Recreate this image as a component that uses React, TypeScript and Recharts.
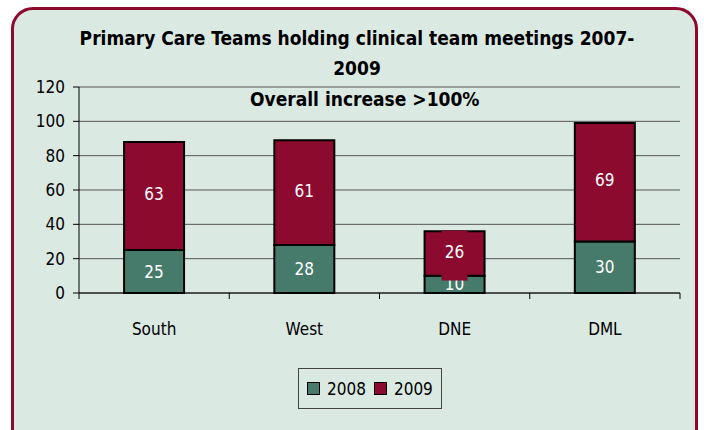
import { Bar, BarChart, CartesianGrid, LabelList, XAxis, YAxis } from "recharts";

// Primary Care Teams holding clinical team meetings, stacked 2008 + 2009.

const regions = ["South", "West", "DNE", "DML"];
const y2008 = [25, 28, 10, 30];
const y2009 = [63, 61, 26, 69];
const yTicks = [0, 20, 40, 60, 80, 100, 120];
const boundaries = [0, 1, 2, 3, 4];

const GREEN = "#467a6a";
const RED = "#8b0a2e";
const BG = "#dbe9e3";
const FONT = '"Liberation Sans Narrow", "DejaVu Sans Condensed", "Arial Narrow", sans-serif';

const data = regions.map((name, i) => ({ name, idx: i + 0.5, a: y2008[i], b: y2009[i] }));

/** 2009 labels sit on a red box (as in the source), which spills over short segments. */
function RedBoxLabel(props: any) {
  const { x, y, width, height, value } = props;
  const cx = x + width / 2;
  const cy = y + height / 2;
  return (
    <g>
      <rect x={cx - 13} y={cy - 23} width={26} height={50} fill={RED} />
      <text x={cx} y={cy} dy={4} textAnchor="middle" fill="#fff" fontSize={17} fontFamily={FONT}>
        {value}
      </text>
    </g>
  );
}

// boundary axis only needs its tick marks
const NoTick = () => <g />;

function LegendItem({ color, label }: { color: string; label: string }) {
  return (
    <span style={{ display: "inline-flex", alignItems: "center", marginRight: 8 }}>
      <span
        style={{
          width: 11,
          height: 11,
          background: color,
          border: "1px solid #000",
          marginRight: 7,
          display: "inline-block",
        }}
      />
      {label}
    </span>
  );
}

export default function App() {
  return (
    <div style={{ position: "absolute", left: 0, top: 0, width: 704, height: 430, overflow: "hidden", background: "#fff", fontFamily: FONT }}>
      <div
        style={{
          position: "absolute",
          left: 11,
          top: 7,
          width: 681,
          height: 450,
          border: `3px solid ${RED}`,
          borderRadius: 22,
          background: BG,
        }}
      />
      <div style={{ position: "absolute", left: 0, top: 0 }}>
        <BarChart width={704} height={430} data={data} margin={{ top: 87, right: 24, bottom: 106, left: 39 }} barCategoryGap="30%">
          <CartesianGrid stroke="#555" vertical={false} xAxisId="names" />
          {/* id 0 sits next to the plot: category-boundary tick marks, Excel style */}
          <XAxis
            type="number"
            dataKey="idx"
            domain={[0, 4]}
            ticks={boundaries}
            axisLine={{ stroke: "#000" }}
            tickLine={{ stroke: "#000" }}
            tickSize={6}
            tick={NoTick}
            height={1}
          />
          <XAxis
            xAxisId="names"
            dataKey="name"
            axisLine={false}
            tickLine={false}
            tick={{ fill: "#000", fontSize: 17, fontFamily: FONT }}
            tickMargin={23}
            height={30}
          />
          <YAxis
            domain={[0, 120]}
            ticks={yTicks}
            axisLine={{ stroke: "#000" }}
            tickLine={{ stroke: "#000" }}
            tickSize={6}
            tickMargin={8}
            tick={{ fill: "#000", fontSize: 17, fontFamily: FONT }}
            width={40}
          />
          <YAxis yAxisId="frame" orientation="right" domain={[0, 120]} axisLine={{ stroke: "#999" }} tick={false} tickLine={false} width={0} />
          <Bar dataKey="a" xAxisId="names" stackId="s" fill={GREEN} stroke="#000" strokeWidth={2} isAnimationActive={false}>
            <LabelList dataKey="a" position="center" fill="#fff" fontSize={17} fontFamily={FONT} />
          </Bar>
          <Bar dataKey="b" xAxisId="names" stackId="s" fill={RED} stroke="#000" strokeWidth={2} isAnimationActive={false}>
            <LabelList dataKey="b" content={<RedBoxLabel />} />
          </Bar>
        </BarChart>
      </div>
      <div
        style={{
          position: "absolute",
          left: 0,
          width: 704,
          top: 23,
          textAlign: "center",
          fontSize: 19,
          fontWeight: "bold",
          lineHeight: "30px",
          paddingLeft: 10,
          boxSizing: "border-box",
        }}
      >
        Primary Care Teams holding clinical team meetings 2007-
        <br />
        2009
      </div>
      <div style={{ position: "absolute", left: 250, top: 88, fontSize: 19, fontWeight: "bold", whiteSpace: "nowrap" }}>
        Overall increase &gt;100%
      </div>
      <div
        style={{
          position: "absolute",
          left: 298,
          top: 368,
          width: 144,
          height: 41,
          boxSizing: "border-box",
          border: "1px solid #444",
          display: "flex",
          alignItems: "center",
          paddingLeft: 8,
          fontSize: 17,
        }}
      >
        <LegendItem color={GREEN} label="2008" />
        <LegendItem color={RED} label="2009" />
      </div>
    </div>
  );
}
